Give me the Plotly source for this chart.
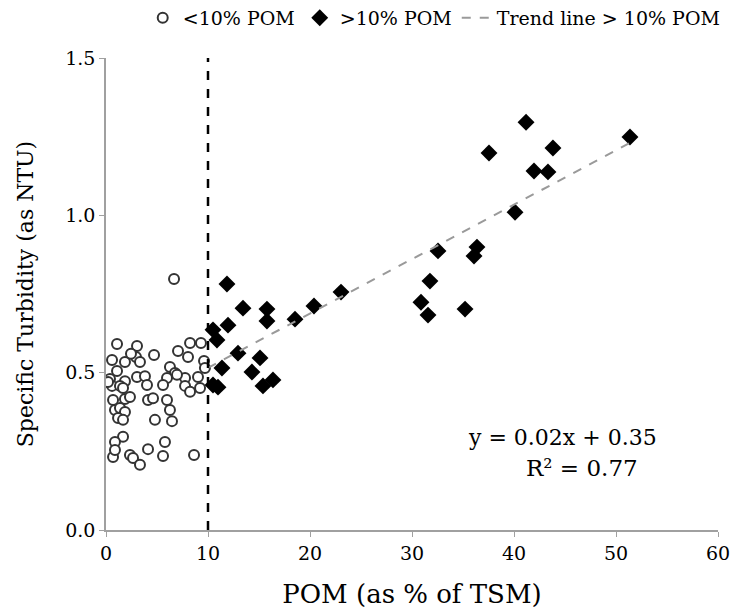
import numpy as np
import plotly.graph_objects as go

# <10% POM (circles)
low_x = [6.67, 1.08, 3.04, 8.24, 9.31, 4.71, 0.59, 1.86, 2.94, 3.33, 7.06, 8.04, 9.61,
         6.27, 6.76, 5.98, 7.75, 9.02, 5.59, 7.75, 1.08, 0.39, 1.86, 3.04, 3.82, 4.02,
         0.59, 1.37, 1.67, 6.96, 8.24, 9.22, 0.69, 1.86, 2.35, 4.12, 4.61, 0.88, 1.37,
         1.86, 1.18, 1.67, 4.80, 5.98, 6.27, 6.47, 1.67, 0.88, 5.78, 4.12, 0.69, 0.88,
         2.35, 2.65, 3.33, 5.59, 8.63, 9.70, 0.20, 2.45]
low_y = [0.798, 0.591, 0.585, 0.594, 0.594, 0.556, 0.540, 0.534, 0.550, 0.534, 0.569, 0.550, 0.537,
         0.518, 0.499, 0.483, 0.483, 0.486, 0.461, 0.458, 0.505, 0.480, 0.473, 0.486, 0.489, 0.461,
         0.458, 0.458, 0.451, 0.493, 0.439, 0.451, 0.413, 0.416, 0.423, 0.413, 0.419, 0.381, 0.388,
         0.375, 0.356, 0.350, 0.350, 0.413, 0.381, 0.346, 0.296, 0.280, 0.280, 0.257, 0.232, 0.254,
         0.238, 0.229, 0.207, 0.235, 0.238, 0.515, 0.470, 0.560]

# >10% POM (diamonds)
high_x = [11.86, 13.43, 15.78, 15.78, 11.96, 10.49, 10.88, 12.94, 15.10, 11.37, 14.31, 16.37,
          15.39, 10.49, 10.98, 18.53, 20.39, 23.04, 41.18, 37.55, 43.82, 41.96, 43.33, 51.37,
          40.10, 32.55, 36.37, 36.08, 31.76, 30.88, 31.57, 35.20]
high_y = [0.782, 0.705, 0.702, 0.664, 0.651, 0.636, 0.604, 0.562, 0.547, 0.515, 0.502, 0.477,
          0.458, 0.461, 0.454, 0.670, 0.712, 0.756, 1.296, 1.198, 1.214, 1.141, 1.138, 1.249,
          1.010, 0.887, 0.899, 0.871, 0.791, 0.724, 0.683, 0.702]

x_ticks = [0, 10, 20, 30, 40, 50, 60]
y_ticks = [0.0, 0.5, 1.0, 1.5]

# least-squares trend line over the >10% series
slope, intercept = np.polyfit(high_x, high_y, 1)
trend_x = [10.0, max(high_x)]
trend_y = [slope * v + intercept for v in trend_x]

FONT = "DejaVu Serif"

fig = go.Figure()
fig.add_trace(go.Scatter(
    x=low_x, y=low_y, mode="markers", name="<10% POM",
    marker=dict(symbol="circle", size=10, color="white",
                line=dict(color="#333333", width=2)),
))
fig.add_trace(go.Scatter(
    x=high_x, y=high_y, mode="markers", name=">10% POM",
    marker=dict(symbol="diamond", size=13, color="black",
                line=dict(color="black", width=0)),
))
fig.add_trace(go.Scatter(
    x=trend_x, y=trend_y, mode="lines", name="Trend line > 10% POM",
    line=dict(color="#9a9a9a", width=2, dash="dash"),
))

fig.add_shape(type="line", x0=10, x1=10, y0=0, y1=1.5, xref="x", yref="y",
              line=dict(color="black", width=2.5, dash="dash"))

fig.add_annotation(x=44.8, y=0.295, xref="x", yref="y", text="y = 0.02x + 0.35",
                   showarrow=False, font=dict(family=FONT, size=22, color="black"))
fig.add_annotation(x=46.7, y=0.197, xref="x", yref="y", text="R² = 0.77",
                   showarrow=False, font=dict(family=FONT, size=23, color="black"))

fig.update_layout(
    width=734, height=615,
    margin=dict(l=106, r=16, t=58, b=85, autoexpand=False),
    paper_bgcolor="white", plot_bgcolor="white",
    font=dict(family=FONT, color="black"),
    showlegend=True,
    legend=dict(orientation="h", x=0.06, xanchor="left", y=1.085, yanchor="middle",
                font=dict(family=FONT, size=19, color="black"),
                itemwidth=30, bgcolor="rgba(0,0,0,0)", tracegroupgap=0),
    xaxis=dict(range=[0, 60], tickvals=x_ticks, showgrid=False, zeroline=False,
               showline=True, linecolor="#a0a0a0", linewidth=1.5,
               ticks="outside", tickcolor="#a0a0a0", ticklen=5,
               tickfont=dict(family=FONT, size=19, color="black"),
               title=dict(text="POM (as % of TSM)", font=dict(family=FONT, size=26, color="black"),
                          standoff=22)),
    yaxis=dict(range=[0, 1.5], tickvals=y_ticks, tickformat=".1f", showgrid=False, zeroline=False,
               showline=True, linecolor="#a0a0a0", linewidth=1.5,
               ticks="outside", tickcolor="#a0a0a0", ticklen=5,
               tickfont=dict(family=FONT, size=19, color="black"),
               title=dict(text="Specific Turbidity (as NTU)", font=dict(family=FONT, size=22, color="black"),
                          standoff=26)),
)

fig.write_html("out.html")
